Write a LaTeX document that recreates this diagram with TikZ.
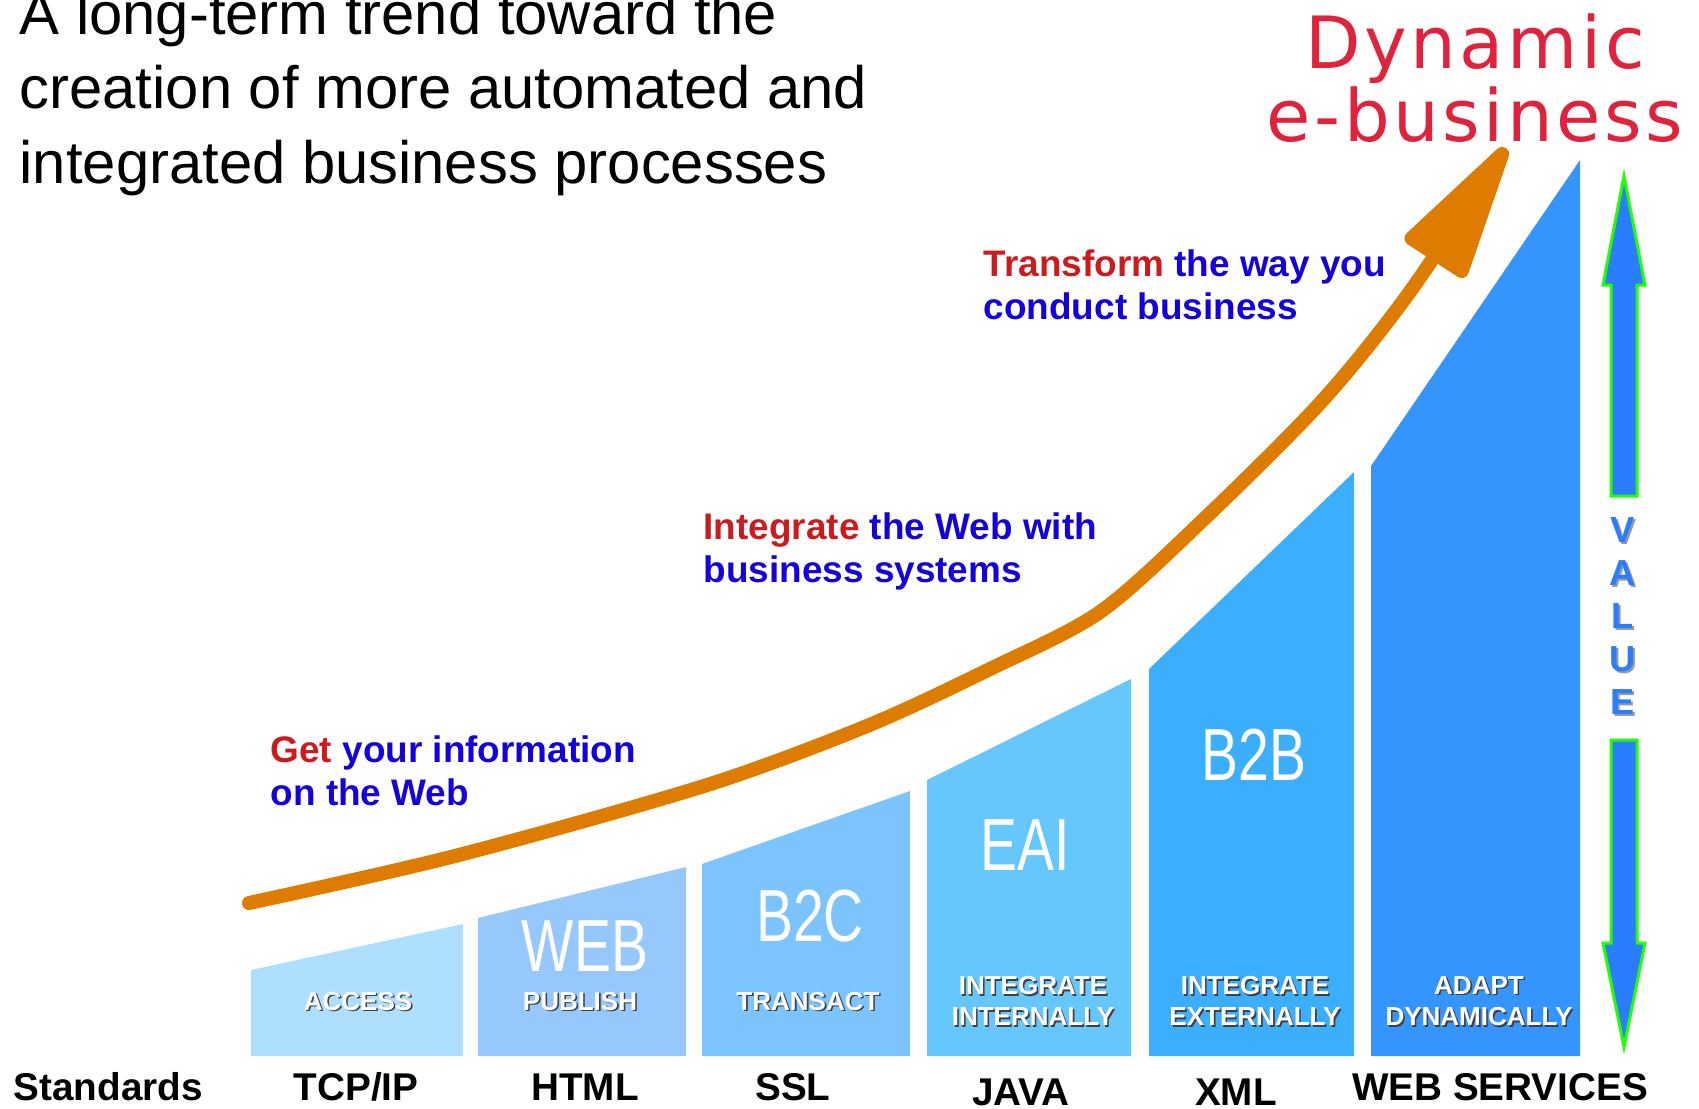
\documentclass[tikz,border=0pt]{standalone}
\usepackage{fontspec}
\setmainfont{Liberation Sans}
\newfontfamily\dynfont[LetterSpace=5]{DejaVu Sans}
\newfontfamily\thinfont[FakeStretch=0.75]{Liberation Sans}
\usetikzlibrary{arrows.meta}
\definecolor{trend}{RGB}{222,124,0}
\definecolor{capred}{RGB}{204,27,30}
\definecolor{capblue}{RGB}{20,0,220}
\definecolor{dynred}{RGB}{224,35,61}
\definecolor{barA}{RGB}{175,223,255}
\definecolor{barB}{RGB}{150,199,253}
\definecolor{barC}{RGB}{123,196,255}
\definecolor{barD}{RGB}{102,199,252}
\definecolor{barE}{RGB}{59,174,254}
\definecolor{barF}{RGB}{53,149,254}
\definecolor{valblue}{RGB}{43,125,255}
\definecolor{valgreen}{RGB}{34,255,0}
\newcommand\withshadow[2][black!75]{\makebox[0pt][l]{\kern0.45pt\raisebox{-0.45pt}{\color{#1}#2}}#2}

\begin{document}
\begin{tikzpicture}[x=0.01cm,y=-0.01cm,every node/.style={inner sep=0pt},
    headline/.style={anchor=north west,align=left,font=\fontsize{17}{21.3}\selectfont},
    caption/.style={anchor=north west,align=left,text=capblue,font=\bfseries\fontsize{10.5}{12.2}\selectfont},
    bigname/.style={text=white,font=\thinfont\fontsize{21}{21}\selectfont},
    task/.style={text=white,align=center,font=\bfseries\fontsize{7.4}{8.9}\selectfont},
    standard/.style={anchor=base,font=\bfseries\fontsize{11}{13}\selectfont},
    valbar/.style={fill=valblue,draw=valgreen,line width=0.85pt},
    trendline/.style={trend,line width=4pt,line cap=round,-{Triangle[length=45pt,width=21pt,round]}}]

  \useasboundingbox (0,0) rectangle (1699,1108);

  \foreach \xl/\xr/\yl/\yr/\c in {251/463/970/924/barA,478/686/918/867/barB,702/910/864/791/barC,
      927/1131/780/679/barD,1149/1354/669/472/barE,1371/1580/466/160/barF}
    \fill[\c] (\xl,1056) -- (\xl,\yl) -- (\xr,\yr) -- (\xr,1056) -- cycle;

  \node[headline] (title) at (19,-10) {A long-term trend toward the\\creation of more automated and\\integrated business processes};
  \node[anchor=north,align=center,text=dynred,font=\dynfont\fontsize{20.5}{19.6}\selectfont] (goal) at (1475,13) {Dynamic\\e-business};

  \coordinate (start) at (249,903);
  \coordinate (tip) at (1506,148);
  \draw[trendline] plot[smooth,tension=0.5] coordinates {(start) (455,856) (704,786) (867,726) (990,669)
      (1100,612) (1203,520) (1322,401) (1409,293) (tip)};

  \node[caption] (get) at (270,735) {\textcolor{capred}{Get} your information\\on the Web};
  \node[caption] (integrate) at (703,512) {\textcolor{capred}{Integrate} the Web with\\business systems};
  \node[caption] (transform) at (983,249) {\textcolor{capred}{Transform} the way you\\conduct business};

  \node[bigname] (web) at (585,946) {WEB};
  \node[bigname] (b2c) at (810,916) {B2C};
  \node[bigname] (eai) at (1025,845) {EAI};
  \node[bigname] (b2b) at (1254,755) {B2B};

  \node[task] (access) at (358,1002) {\withshadow{ACCESS}};
  \node[task] (publish) at (580,1002) {\withshadow{PUBLISH}};
  \node[task] (transact) at (808,1002) {\withshadow{TRANSACT}};
  \node[task] (internal) at (1033,1002) {\withshadow{INTEGRATE}\\\withshadow{INTERNALLY}};
  \node[task] (external) at (1255,1002) {\withshadow{INTEGRATE}\\\withshadow{EXTERNALLY}};
  \node[task] (adapt) at (1479,1002) {\withshadow{ADAPT}\\\withshadow{DYNAMICALLY}};

  \node[standard,anchor=base west] (standards) at (13,1100) {Standards};
  \node[standard] (tcpip) at (356,1100) {TCP/IP};
  \node[standard] (html) at (585,1100) {HTML};
  \node[standard] (ssl) at (793,1100) {SSL};
  \node[standard] (java) at (1021,1105) {JAVA};
  \node[standard] (xml) at (1236,1105) {XML};
  \node[standard] (websvc) at (1500,1100) {WEB SERVICES};

  \draw[valbar] (1624,176) -- (1645,285) -- (1637,285) -- (1637,496) -- (1611,496) -- (1611,285) -- (1603,285) -- cycle;
  \draw[valbar] (1611,740) -- (1637,740) -- (1637,943) -- (1645,943) -- (1624,1047) -- (1603,943) -- (1611,943) -- cycle;
  \node[align=center,text=valblue,font=\bfseries\fontsize{10.3}{12.2}\selectfont] (value) at (1623,617)
    {\withshadow[black!40]{V}\\\withshadow[black!40]{A}\\\withshadow[black!40]{L}\\\withshadow[black!40]{U}\\\withshadow[black!40]{E}};
\end{tikzpicture}
\end{document}
